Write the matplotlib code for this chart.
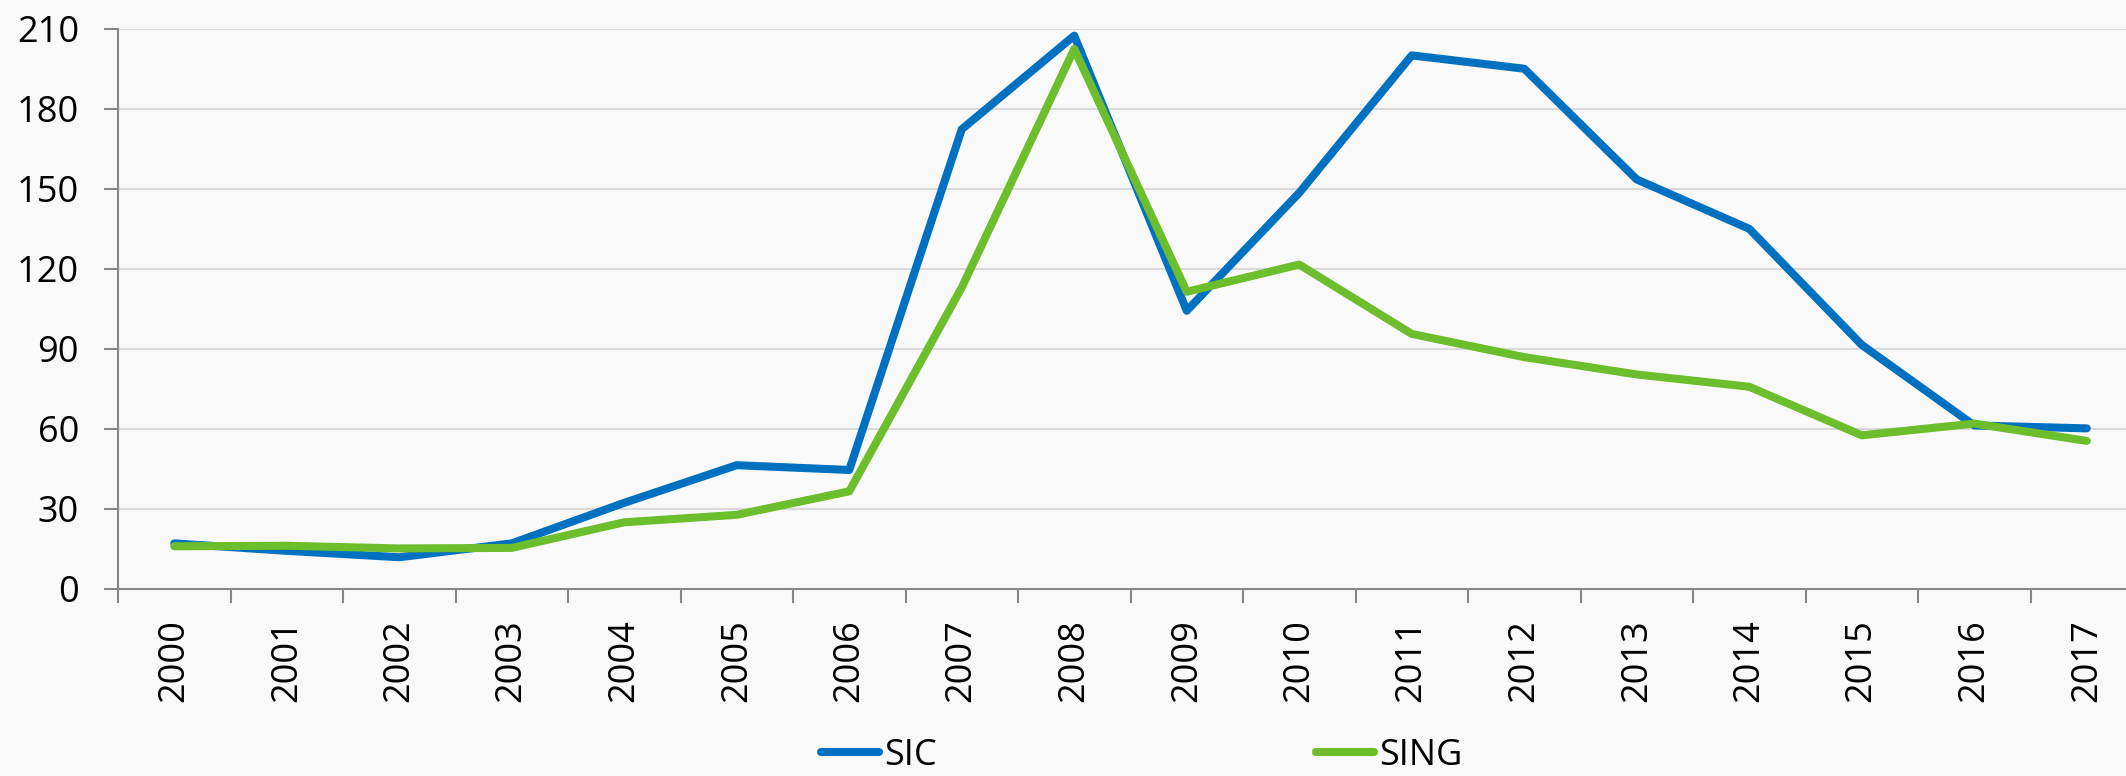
import numpy as np
import matplotlib
matplotlib.use('Agg')
import matplotlib.pyplot as plt
from matplotlib.lines import Line2D

# Data
years = [str(y) for y in range(2000, 2018)]
sic = [17.1, 14.3, 11.9, 17.1, 32.3, 46.4, 44.6, 172.3, 207.4, 104.3,
       148.5, 200.0, 195.0, 153.5, 135.0, 91.5, 61.3, 60.2]
sing = [16.0, 16.2, 15.2, 15.4, 25.0, 27.8, 36.6, 113.0, 202.4, 111.4,
        121.6, 95.6, 86.9, 80.4, 75.8, 57.6, 62.0, 55.5]
yticks = [0, 30, 60, 90, 120, 150, 180, 210]

plt.rcParams['font.family'] = ['Open Sans', 'DejaVu Sans']
plt.rcParams['font.size'] = 26

bg = '#f9f9f9'
blue = '#0070C0'
green = '#6CBE2C'
fig = plt.figure(figsize=(21.26, 7.76), dpi=100, facecolor=bg)
ax = fig.add_axes([118/2126, 0.241, 2025/2126, 0.722], facecolor=bg)

x = np.arange(len(years))
ax.plot(x, sic, color=blue, lw=5.8, solid_capstyle='round', solid_joinstyle='round', zorder=3)
ax.plot(x, sing, color=green, lw=5.8, solid_capstyle='round', solid_joinstyle='round', zorder=3)

ax.set_xlim(-0.5, len(years) - 0.5)
ax.set_ylim(0, 210)
ax.set_yticks(yticks)
ax.yaxis.grid(True, color='#d9d9d9', lw=1.5)
ax.set_axisbelow(True)

ax.set_xticks(x)
ax.set_xticklabels(years, rotation=90)
ax.set_xticks(np.arange(-0.5, len(years), 1), minor=True)
ax.tick_params(axis='x', which='major', length=0, pad=22)
ax.tick_params(axis='x', which='minor', length=10, width=1.5, color='#868686')
ax.tick_params(axis='y', length=10, width=1.5, color='#868686', pad=18)

for side in ['top', 'right']:
    ax.spines[side].set_visible(False)
for side in ['left', 'bottom']:
    ax.spines[side].set_color('#868686')
    ax.spines[side].set_linewidth(1.5)

# two separate legend entries, placed where the reference has them
for name, col, xpos in [('SIC', blue, 821), ('SING', green, 1316)]:
    h = Line2D([], [], color=col, lw=5.8, solid_capstyle='round')
    fig.legend([h], [name], loc='center left', bbox_to_anchor=(xpos/2126, 0.026),
               frameon=False, borderpad=0, borderaxespad=0, handlelength=1.6,
               handletextpad=0.15, fontsize=26)

plt.savefig('out.png', facecolor=bg)
